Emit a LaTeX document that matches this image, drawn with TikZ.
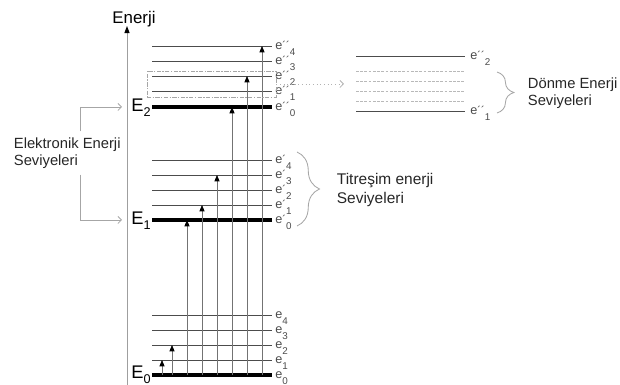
\documentclass[tikz,border=0pt]{standalone}
\usepackage{fontspec}
\setmainfont{Liberation Sans}
\usepackage{tikz}
\usetikzlibrary{arrows.meta,positioning,fit,decorations.pathreplacing}

\definecolor{lvlgray}{gray}{0.3}
\definecolor{linegray}{gray}{0.45}
\newcommand{\lvlname}[2]{e{\fontsize{8}{8}\selectfont#1}\raisebox{-0.75ex}{\fontsize{7}{7}\selectfont#2}}
\newcommand{\bigE}[1]{E\raisebox{-0.45ex}{\fontsize{9}{9}\selectfont #1}}

\begin{document}
\begin{tikzpicture}[
  x=0.025cm, y=-0.025cm,
  lvl/.style={draw=lvlgray, line width=0.6pt},
  main/.style={draw=black, line width=2.2pt},
  rotlvl/.style={draw=gray!55, line width=0.5pt, dash pattern=on 2pt off 1pt},
  up/.style={-{Triangle[length=4.5pt,width=3.6pt,color=black]}, draw=linegray, line width=0.5pt},
  axis/.style={-{Triangle[length=5pt,width=3.6pt,color=black]}, draw=gray!75, line width=0.7pt},
  earrow/.style={-{Straight Barb[length=2.5pt,width=5pt]}, draw=gray!70, line width=0.6pt},
  zoomarrow/.style={-{Straight Barb[length=2.5pt,width=5pt]}, draw=gray!60, line width=0.6pt, dotted},
  rotbox/.style={draw=gray!70, line width=0.5pt, dash pattern=on 3pt off 1pt on 1pt off 1pt, inner sep=0pt},
  elab/.style={anchor=base west, inner sep=0pt, text=lvlgray, font=\fontsize{9}{9}\selectfont},
  Elab/.style={anchor=base east, inner sep=0pt, font=\fontsize{13}{13}\selectfont},
  side/.style={align=left, inner sep=4pt, text=black!85, font=\fontsize{10.5}{12.5}\selectfont},
  brace/.style={decorate, decoration={brace, amplitude=#1}, draw=gray!70, line width=0.6pt}
]
\useasboundingbox (0,0) rectangle (620,385);
% Energy axis
\coordinate (ax0) at (127,385);
\coordinate (ax1) at (127,26);
\draw[axis] (ax0) -- (ax1);
\node[anchor=base, inner sep=0pt, font=\fontsize{12}{12}\selectfont] (enerji) at (134,24) {Enerji};
% Ground state E0
\foreach \n/\y in {0/375,1/360,2/345,3/330,4/315} {
  \coordinate (lo\n) at (272,\y);
  \draw[lvl] (152,\y) -- (lo\n);
  \node[elab] (lol\n) at (275,\y+4) {\lvlname{}{\n}};
}
\draw[main] (152,375) -- (lo0);
\node[Elab] (E0) at (151,379) {\bigE{0}};
% First excited state E1
\foreach \n/\y in {0/220,1/205,2/190,3/175,4/160} {
  \coordinate (mid\n) at (272,\y);
  \draw[lvl] (152,\y) -- (mid\n);
  \node[elab] (midl\n) at (275,\y+4) {\lvlname{´}{\n}};
}
\draw[main] (152,220) -- (mid0);
\node[Elab] (E1) at (151,225) {\bigE{1}};
% Second excited state E2
\foreach \n/\y in {0/107,1/91,2/76,3/61,4/46} {
  \coordinate (hi\n) at (272,\y);
  \draw[lvl] (152,\y) -- (hi\n);
  \node[elab] (hil\n) at (275,\y+4) {\lvlname{´´}{\n}};
}
\draw[main] (152,107) -- (hi0);
\node[Elab] (E2) at (151,112) {\bigE{2}};
% Transitions
\foreach \x/\t in {162/lo1,172/lo2,187/mid0,202/mid1,217/mid3,232/hi0,247/hi2,262/hi4}
  \draw[up] (\x,0 |- lo0) -- (\x,0 |- \t);
% Rotational levels (zoomed)
\coordinate (bx1) at (147,71);
\coordinate (bx2) at (276,97);
\node[rotbox, fit=(bx1)(bx2)] (box) {};
\coordinate (zt) at (344,83);
\draw[zoomarrow] (box.east) -- (zt |- box.east);
\coordinate (rt) at (465,56);
\coordinate (rb) at (465,111);
\draw[lvl] (356,56) -- (rt);
\foreach \y in {71,81,91,101}
  \draw[rotlvl] (356,\y) -- (465,\y);
\draw[lvl] (356,111) -- (rb);
\node[elab] (rtl) at (470,60) {\lvlname{´´}{2}};
\node[elab] (rbl) at (470,115) {\lvlname{´´}{1}};
% Labels and braces
\coordinate (k2) at (80,107);
\coordinate (k1) at (80,220);
\coordinate (in2) at (122,107);
\coordinate (in1) at (122,220);
\node[side, anchor=west] (elek) at (8,153) {Elektronik Enerji\\Seviyeleri};
\draw[earrow] (elek.north -| k2) -- (k2) -- (in2);
\draw[earrow] (elek.south -| k1) -- (k1) -- (in1);
\draw[brace=16pt] (297,152) -- (297,226);
\node[side, anchor=west, font=\fontsize{11}{13}\selectfont] (titr) at (331,190) {Titreşim enerji\\Seviyeleri};
\draw[brace=12pt] (497,72) -- (497,113);
\node[side, anchor=west] (donme) at (522,93) {Dönme Enerji\\Seviyeleri};
\end{tikzpicture}
\end{document}
